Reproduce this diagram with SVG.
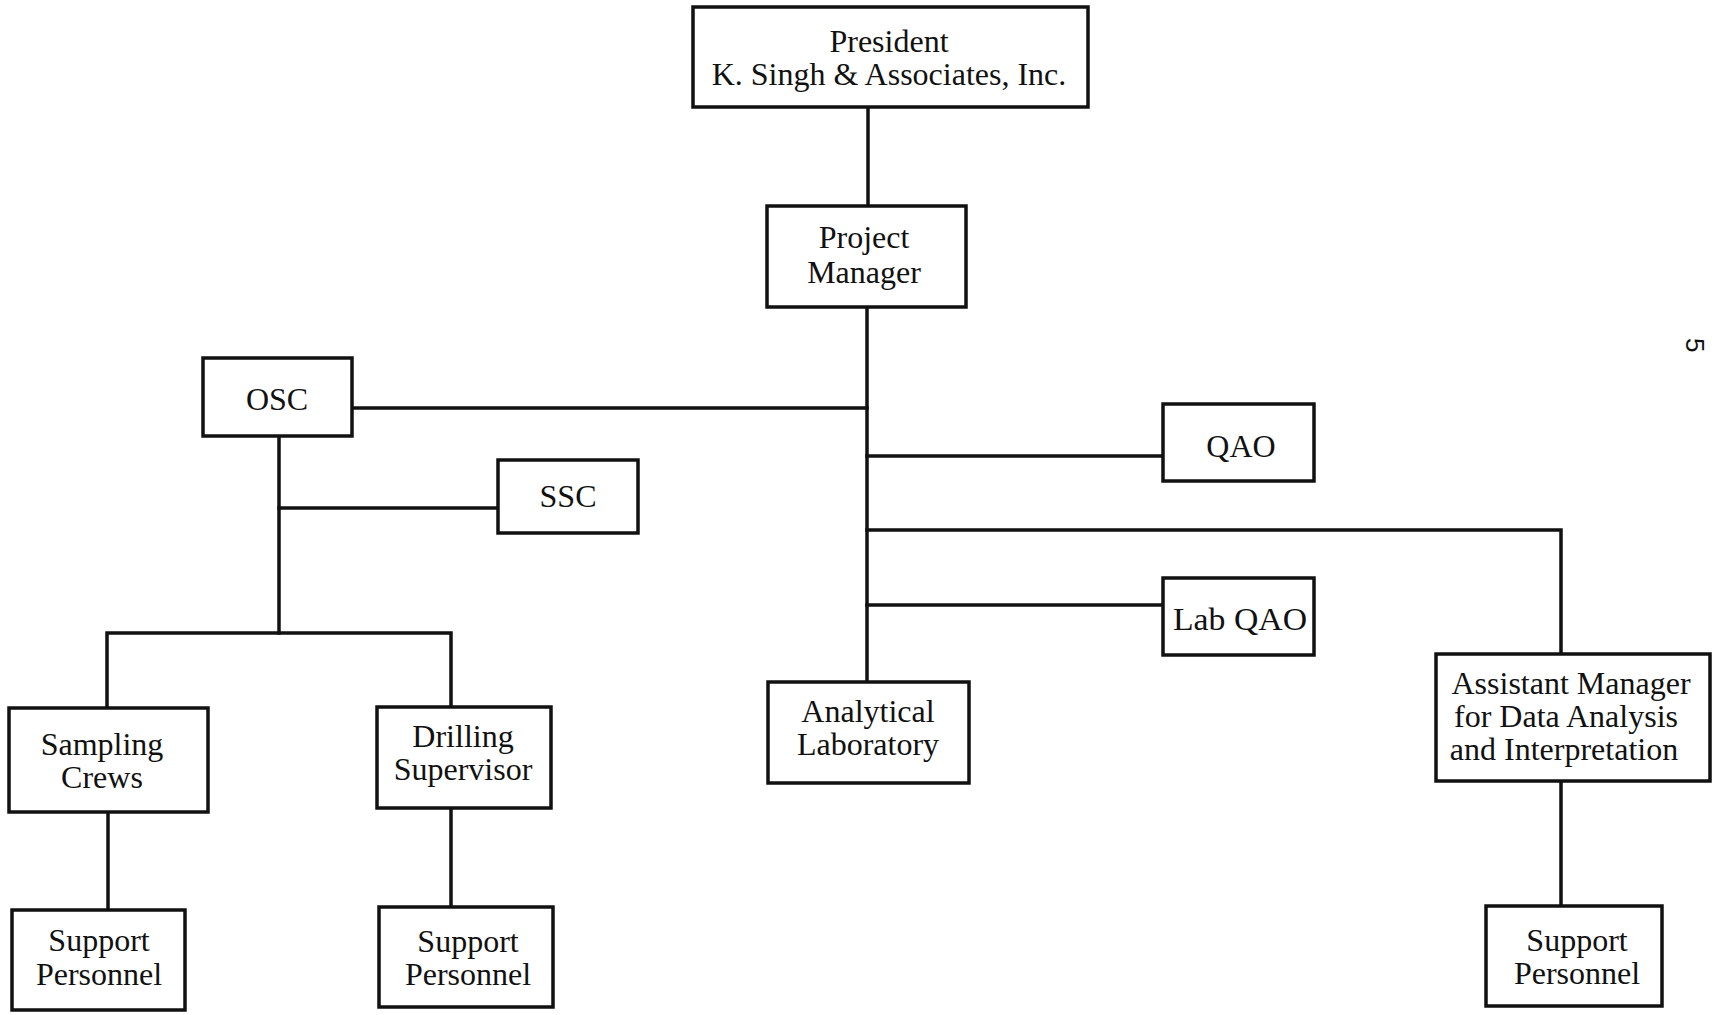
<svg xmlns="http://www.w3.org/2000/svg" width="1715" height="1015" viewBox="0 0 1715 1015">
  <style>
    .box { fill: #ffffff; stroke: #111111; stroke-width: 3.5; }
    .conn { fill: none; stroke: #111111; stroke-width: 3.5; stroke-linecap: square; }
    .lbl { font-family: "Liberation Serif", "Times New Roman", serif; font-size: 32px; fill: #111111; text-anchor: middle; }
    .pg { font-family: "Liberation Sans", Arial, sans-serif; font-size: 26px; fill: #111111; }
  </style>
  <rect x="0" y="0" width="1715" height="1015" fill="#ffffff"/>

  <g id="connectors">
    <path class="conn" d="M868,107 V206"/>
    <path class="conn" d="M867,307 V682"/>
    <path class="conn" d="M352,408 H867"/>
    <path class="conn" d="M867,456 H1163"/>
    <path class="conn" d="M867,530 H1561 V654"/>
    <path class="conn" d="M867,605 H1163"/>
    <path class="conn" d="M279,436 V633"/>
    <path class="conn" d="M279,508 H498"/>
    <path class="conn" d="M107,708 V633 H451 V707"/>
    <path class="conn" d="M108,812 V910"/>
    <path class="conn" d="M451,808 V907"/>
    <path class="conn" d="M1561,781 V906"/>
  </g>

  <g id="president">
    <rect class="box" x="693" y="7" width="395" height="100"/>
    <text class="lbl" x="889" y="52">President</text>
    <text class="lbl" x="889" y="85">K. Singh &amp; Associates, Inc.</text>
  </g>
  <g id="project-manager">
    <rect class="box" x="767" y="206" width="199" height="101"/>
    <text class="lbl" x="864" y="248">Project</text>
    <text class="lbl" x="864" y="283">Manager</text>
  </g>
  <g id="osc">
    <rect class="box" x="203" y="358" width="149" height="78"/>
    <text class="lbl" x="277" y="410">OSC</text>
  </g>
  <g id="ssc">
    <rect class="box" x="498" y="460" width="140" height="73"/>
    <text class="lbl" x="568" y="507">SSC</text>
  </g>
  <g id="qao">
    <rect class="box" x="1163" y="404" width="151" height="77"/>
    <text class="lbl" x="1241" y="457">QAO</text>
  </g>
  <g id="lab-qao">
    <rect class="box" x="1163" y="578" width="151" height="77"/>
    <text class="lbl" x="1240" y="630" textLength="134" lengthAdjust="spacingAndGlyphs">Lab QAO</text>
  </g>
  <g id="analytical-laboratory">
    <rect class="box" x="768" y="682" width="201" height="101"/>
    <text class="lbl" x="868" y="722">Analytical</text>
    <text class="lbl" x="868" y="755">Laboratory</text>
  </g>
  <g id="sampling-crews">
    <rect class="box" x="9" y="708" width="199" height="104"/>
    <text class="lbl" x="102" y="755">Sampling</text>
    <text class="lbl" x="102" y="788">Crews</text>
  </g>
  <g id="drilling-supervisor">
    <rect class="box" x="377" y="707" width="174" height="101"/>
    <text class="lbl" x="463" y="747">Drilling</text>
    <text class="lbl" x="463" y="780">Supervisor</text>
  </g>
  <g id="assistant-manager">
    <rect class="box" x="1436" y="654" width="274" height="127"/>
    <text class="lbl" x="1571" y="694">Assistant Manager</text>
    <text class="lbl" x="1566" y="727">for Data Analysis</text>
    <text class="lbl" x="1564" y="760">and Interpretation</text>
  </g>
  <g id="support-personnel-1">
    <rect class="box" x="12" y="910" width="173" height="100"/>
    <text class="lbl" x="99" y="951">Support</text>
    <text class="lbl" x="99" y="985">Personnel</text>
  </g>
  <g id="support-personnel-2">
    <rect class="box" x="379" y="907" width="174" height="100"/>
    <text class="lbl" x="468" y="952">Support</text>
    <text class="lbl" x="468" y="985">Personnel</text>
  </g>
  <g id="support-personnel-3">
    <rect class="box" x="1486" y="906" width="176" height="100"/>
    <text class="lbl" x="1577" y="951">Support</text>
    <text class="lbl" x="1577" y="984">Personnel</text>
  </g>

  <text class="pg" transform="translate(1686,338) rotate(90)" x="0" y="0">5</text>
</svg>
